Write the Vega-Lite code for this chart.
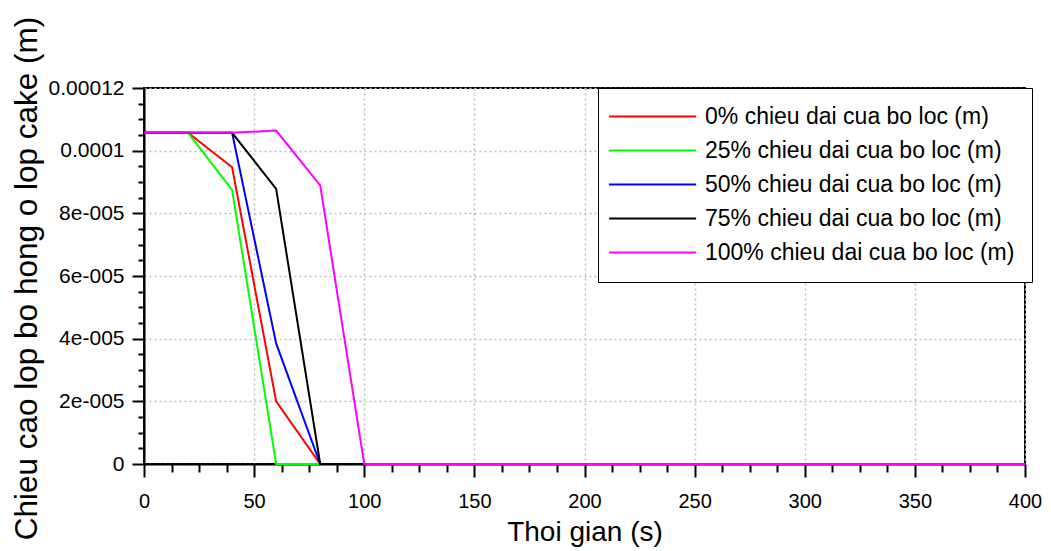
{
  "$schema": "https://vega.github.io/schema/vega-lite/v6.json",
  "autosize": {"type": "none"},
  "padding": {"left": 144, "top": 88, "right": 26, "bottom": 87},
  "width": 881,
  "height": 376,
  "background": "white",
  "data": {"values": [
    {"series": "0% chieu dai cua bo loc (m)", "time": 0, "height": 0.0001057},
    {"series": "0% chieu dai cua bo loc (m)", "time": 20, "height": 0.0001057},
    {"series": "0% chieu dai cua bo loc (m)", "time": 40, "height": 0.0000947},
    {"series": "0% chieu dai cua bo loc (m)", "time": 60, "height": 0.0000200},
    {"series": "0% chieu dai cua bo loc (m)", "time": 80, "height": 0},
    {"series": "0% chieu dai cua bo loc (m)", "time": 100, "height": 0},
    {"series": "0% chieu dai cua bo loc (m)", "time": 120, "height": 0},
    {"series": "0% chieu dai cua bo loc (m)", "time": 140, "height": 0},
    {"series": "0% chieu dai cua bo loc (m)", "time": 160, "height": 0},
    {"series": "0% chieu dai cua bo loc (m)", "time": 180, "height": 0},
    {"series": "0% chieu dai cua bo loc (m)", "time": 200, "height": 0},
    {"series": "0% chieu dai cua bo loc (m)", "time": 220, "height": 0},
    {"series": "0% chieu dai cua bo loc (m)", "time": 240, "height": 0},
    {"series": "0% chieu dai cua bo loc (m)", "time": 260, "height": 0},
    {"series": "0% chieu dai cua bo loc (m)", "time": 280, "height": 0},
    {"series": "0% chieu dai cua bo loc (m)", "time": 300, "height": 0},
    {"series": "0% chieu dai cua bo loc (m)", "time": 320, "height": 0},
    {"series": "0% chieu dai cua bo loc (m)", "time": 340, "height": 0},
    {"series": "0% chieu dai cua bo loc (m)", "time": 360, "height": 0},
    {"series": "0% chieu dai cua bo loc (m)", "time": 380, "height": 0},
    {"series": "0% chieu dai cua bo loc (m)", "time": 400, "height": 0},
    {"series": "25% chieu dai cua bo loc (m)", "time": 0, "height": 0.0001057},
    {"series": "25% chieu dai cua bo loc (m)", "time": 20, "height": 0.0001057},
    {"series": "25% chieu dai cua bo loc (m)", "time": 40, "height": 0.0000875},
    {"series": "25% chieu dai cua bo loc (m)", "time": 60, "height": 0},
    {"series": "25% chieu dai cua bo loc (m)", "time": 80, "height": 0},
    {"series": "25% chieu dai cua bo loc (m)", "time": 100, "height": 0},
    {"series": "25% chieu dai cua bo loc (m)", "time": 120, "height": 0},
    {"series": "25% chieu dai cua bo loc (m)", "time": 140, "height": 0},
    {"series": "25% chieu dai cua bo loc (m)", "time": 160, "height": 0},
    {"series": "25% chieu dai cua bo loc (m)", "time": 180, "height": 0},
    {"series": "25% chieu dai cua bo loc (m)", "time": 200, "height": 0},
    {"series": "25% chieu dai cua bo loc (m)", "time": 220, "height": 0},
    {"series": "25% chieu dai cua bo loc (m)", "time": 240, "height": 0},
    {"series": "25% chieu dai cua bo loc (m)", "time": 260, "height": 0},
    {"series": "25% chieu dai cua bo loc (m)", "time": 280, "height": 0},
    {"series": "25% chieu dai cua bo loc (m)", "time": 300, "height": 0},
    {"series": "25% chieu dai cua bo loc (m)", "time": 320, "height": 0},
    {"series": "25% chieu dai cua bo loc (m)", "time": 340, "height": 0},
    {"series": "25% chieu dai cua bo loc (m)", "time": 360, "height": 0},
    {"series": "25% chieu dai cua bo loc (m)", "time": 380, "height": 0},
    {"series": "25% chieu dai cua bo loc (m)", "time": 400, "height": 0},
    {"series": "50% chieu dai cua bo loc (m)", "time": 0, "height": 0.0001057},
    {"series": "50% chieu dai cua bo loc (m)", "time": 20, "height": 0.0001057},
    {"series": "50% chieu dai cua bo loc (m)", "time": 40, "height": 0.0001057},
    {"series": "50% chieu dai cua bo loc (m)", "time": 60, "height": 0.0000385},
    {"series": "50% chieu dai cua bo loc (m)", "time": 80, "height": 0},
    {"series": "50% chieu dai cua bo loc (m)", "time": 100, "height": 0},
    {"series": "50% chieu dai cua bo loc (m)", "time": 120, "height": 0},
    {"series": "50% chieu dai cua bo loc (m)", "time": 140, "height": 0},
    {"series": "50% chieu dai cua bo loc (m)", "time": 160, "height": 0},
    {"series": "50% chieu dai cua bo loc (m)", "time": 180, "height": 0},
    {"series": "50% chieu dai cua bo loc (m)", "time": 200, "height": 0},
    {"series": "50% chieu dai cua bo loc (m)", "time": 220, "height": 0},
    {"series": "50% chieu dai cua bo loc (m)", "time": 240, "height": 0},
    {"series": "50% chieu dai cua bo loc (m)", "time": 260, "height": 0},
    {"series": "50% chieu dai cua bo loc (m)", "time": 280, "height": 0},
    {"series": "50% chieu dai cua bo loc (m)", "time": 300, "height": 0},
    {"series": "50% chieu dai cua bo loc (m)", "time": 320, "height": 0},
    {"series": "50% chieu dai cua bo loc (m)", "time": 340, "height": 0},
    {"series": "50% chieu dai cua bo loc (m)", "time": 360, "height": 0},
    {"series": "50% chieu dai cua bo loc (m)", "time": 380, "height": 0},
    {"series": "50% chieu dai cua bo loc (m)", "time": 400, "height": 0},
    {"series": "75% chieu dai cua bo loc (m)", "time": 0, "height": 0.0001057},
    {"series": "75% chieu dai cua bo loc (m)", "time": 20, "height": 0.0001057},
    {"series": "75% chieu dai cua bo loc (m)", "time": 40, "height": 0.0001057},
    {"series": "75% chieu dai cua bo loc (m)", "time": 60, "height": 0.0000878},
    {"series": "75% chieu dai cua bo loc (m)", "time": 80, "height": 0},
    {"series": "75% chieu dai cua bo loc (m)", "time": 100, "height": 0},
    {"series": "75% chieu dai cua bo loc (m)", "time": 120, "height": 0},
    {"series": "75% chieu dai cua bo loc (m)", "time": 140, "height": 0},
    {"series": "75% chieu dai cua bo loc (m)", "time": 160, "height": 0},
    {"series": "75% chieu dai cua bo loc (m)", "time": 180, "height": 0},
    {"series": "75% chieu dai cua bo loc (m)", "time": 200, "height": 0},
    {"series": "75% chieu dai cua bo loc (m)", "time": 220, "height": 0},
    {"series": "75% chieu dai cua bo loc (m)", "time": 240, "height": 0},
    {"series": "75% chieu dai cua bo loc (m)", "time": 260, "height": 0},
    {"series": "75% chieu dai cua bo loc (m)", "time": 280, "height": 0},
    {"series": "75% chieu dai cua bo loc (m)", "time": 300, "height": 0},
    {"series": "75% chieu dai cua bo loc (m)", "time": 320, "height": 0},
    {"series": "75% chieu dai cua bo loc (m)", "time": 340, "height": 0},
    {"series": "75% chieu dai cua bo loc (m)", "time": 360, "height": 0},
    {"series": "75% chieu dai cua bo loc (m)", "time": 380, "height": 0},
    {"series": "75% chieu dai cua bo loc (m)", "time": 400, "height": 0},
    {"series": "100% chieu dai cua bo loc (m)", "time": 0, "height": 0.0001057},
    {"series": "100% chieu dai cua bo loc (m)", "time": 20, "height": 0.0001057},
    {"series": "100% chieu dai cua bo loc (m)", "time": 40, "height": 0.0001057},
    {"series": "100% chieu dai cua bo loc (m)", "time": 60, "height": 0.0001064},
    {"series": "100% chieu dai cua bo loc (m)", "time": 80, "height": 0.0000889},
    {"series": "100% chieu dai cua bo loc (m)", "time": 100, "height": 0},
    {"series": "100% chieu dai cua bo loc (m)", "time": 120, "height": 0},
    {"series": "100% chieu dai cua bo loc (m)", "time": 140, "height": 0},
    {"series": "100% chieu dai cua bo loc (m)", "time": 160, "height": 0},
    {"series": "100% chieu dai cua bo loc (m)", "time": 180, "height": 0},
    {"series": "100% chieu dai cua bo loc (m)", "time": 200, "height": 0},
    {"series": "100% chieu dai cua bo loc (m)", "time": 220, "height": 0},
    {"series": "100% chieu dai cua bo loc (m)", "time": 240, "height": 0},
    {"series": "100% chieu dai cua bo loc (m)", "time": 260, "height": 0},
    {"series": "100% chieu dai cua bo loc (m)", "time": 280, "height": 0},
    {"series": "100% chieu dai cua bo loc (m)", "time": 300, "height": 0},
    {"series": "100% chieu dai cua bo loc (m)", "time": 320, "height": 0},
    {"series": "100% chieu dai cua bo loc (m)", "time": 340, "height": 0},
    {"series": "100% chieu dai cua bo loc (m)", "time": 360, "height": 0},
    {"series": "100% chieu dai cua bo loc (m)", "time": 380, "height": 0},
    {"series": "100% chieu dai cua bo loc (m)", "time": 400, "height": 0}
  ]},
  "layer": [
    {
      "mark": {"type": "line", "strokeOpacity": 0},
      "encoding": {
        "x": {"field": "time", "type": "quantitative", "scale": {"domain": [0, 400], "nice": false},
          "axis": {"orient": "bottom", "values": [12.5, 25, 37.5, 62.5, 75, 87.5, 112.5, 125, 137.5, 162.5, 175, 187.5, 212.5, 225, 237.5, 262.5, 275, 287.5, 312.5, 325, 337.5, 362.5, 375, 387.5],
            "labels": false, "grid": false, "domain": false, "ticks": true, "tickSize": 8, "tickWidth": 2, "tickColor": "black", "title": null}},
        "y": {"field": "height", "type": "quantitative", "scale": {"domain": [0, 0.00012], "nice": false},
          "axis": {"orient": "left", "values": [0.000005, 0.00001, 0.000015, 0.000025, 0.00003, 0.000035, 0.000045, 0.00005, 0.000055, 0.000065, 0.00007, 0.000075, 0.000085, 0.00009, 0.000095, 0.000105, 0.00011, 0.000115],
            "labels": false, "grid": false, "domain": false, "ticks": true, "tickSize": 6, "tickWidth": 2, "tickColor": "black", "title": null}}
      }
    },
    {
      "mark": {"type": "line", "strokeWidth": 2},
      "encoding": {
        "x": {"field": "time", "type": "quantitative", "scale": {"domain": [0, 400], "nice": false},
          "axis": {"orient": "bottom", "values": [0, 50, 100, 150, 200, 250, 300, 350, 400],
            "grid": true, "gridDash": [2, 3], "gridColor": "#bdbdbd", "gridWidth": 1.5,
            "domainColor": "black", "domainWidth": 2, "tickColor": "black", "tickWidth": 2, "tickSize": 13,
            "labelFont": "Liberation Sans", "labelFontSize": 20, "labelColor": "black", "labelBaseline": "alphabetic", "labelPadding": 30, "labelFlush": false,
            "title": "Thoi gian (s)", "titleFont": "Liberation Sans", "titleFontSize": 28, "titleFontWeight": "normal", "titleColor": "black",
            "titleBaseline": "alphabetic", "titleY": 76}},
        "y": {"field": "height", "type": "quantitative", "scale": {"domain": [0, 0.00012], "nice": false},
          "axis": {"orient": "left", "values": [0, 0.00002, 0.00004, 0.00006, 0.00008, 0.0001, 0.00012],
            "labelExpr": "datum.value == 0 ? '0' : (datum.value >= 0.0001 ? toString(datum.value) : toString(round(datum.value * 100000)) + 'e-005')",
            "grid": true, "gridDash": [2, 3], "gridColor": "#bdbdbd", "gridWidth": 1.5,
            "domainColor": "black", "domainWidth": 2, "tickColor": "black", "tickWidth": 2, "tickSize": 12,
            "labelFont": "Liberation Sans", "labelFontSize": 21, "labelColor": "black", "labelBaseline": "middle", "labelPadding": 8, "labelFlush": false,
            "title": "Chieu cao lop bo hong o lop cake (m)", "titleFont": "Liberation Sans", "titleFontSize": 31.5, "titleFontWeight": "normal", "titleColor": "black",
            "titleBaseline": "alphabetic", "titleAlign": "center", "titleAngle": 270, "titleX": -108, "titleY": 190}},
        "color": {"field": "series", "type": "nominal",
          "scale": {"domain": ["0% chieu dai cua bo loc (m)", "25% chieu dai cua bo loc (m)", "50% chieu dai cua bo loc (m)", "75% chieu dai cua bo loc (m)", "100% chieu dai cua bo loc (m)"],
            "range": ["#ff0000", "#00ff00", "#0000ff", "#000000", "#ff00ff"]},
          "legend": {"orient": "none", "legendX": 454, "legendY": 0, "title": null,
            "symbolType": "M-2,0H8", "symbolSize": 303, "symbolStrokeWidth": 2,
            "labelFont": "Liberation Sans", "labelFontSize": 23, "labelColor": "black", "labelOffset": 67, "labelLimit": 500,
            "padding": 17, "rowPadding": 10, "strokeColor": "black", "fillColor": "white"}},
        "order": {"field": "time", "type": "quantitative"}
      }
    }
  ],
  "resolve": {"axis": {"x": "independent", "y": "independent"}},
  "config": {"view": {"stroke": "black", "strokeWidth": 2}}
}
